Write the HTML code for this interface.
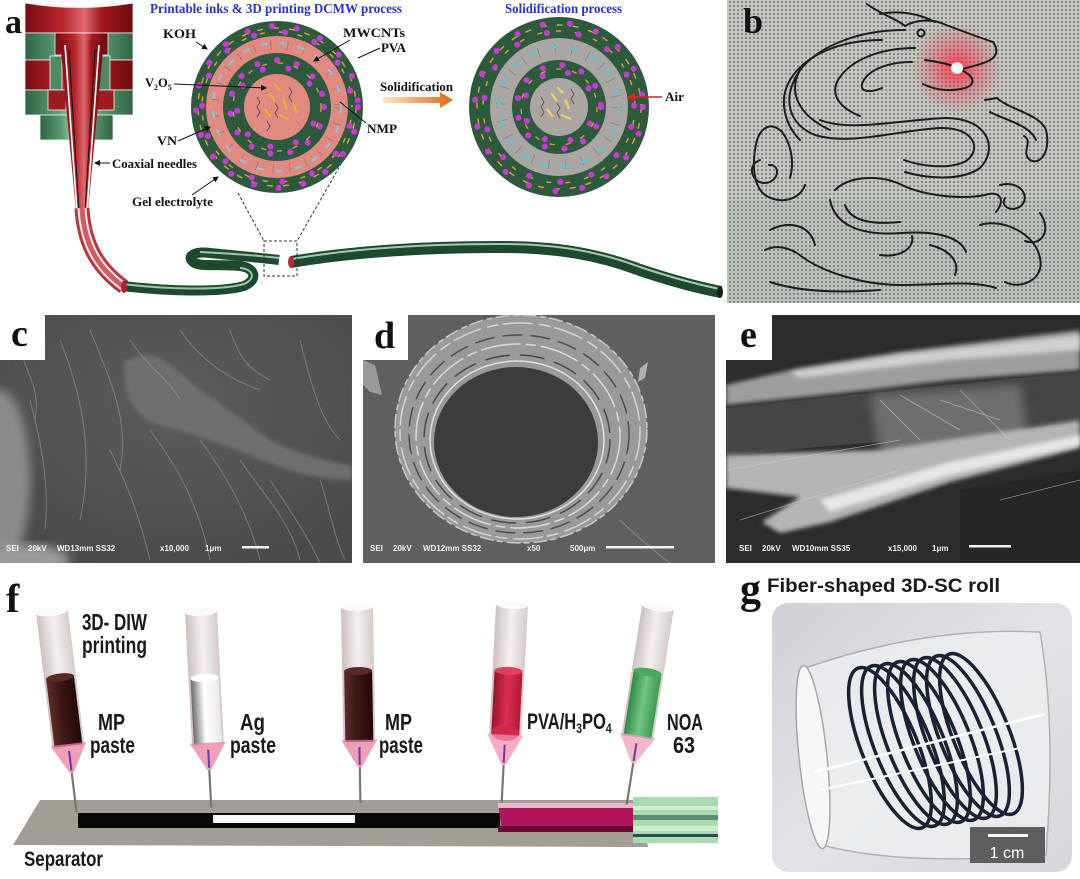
<!DOCTYPE html>
<html><head><meta charset="utf-8">
<style>
html,body{margin:0;padding:0;background:#fff;width:1080px;height:879px;overflow:hidden}
svg{display:block}
.ser{font-family:"Liberation Serif",serif;font-weight:bold;fill:#111}
.sans{font-family:"Liberation Sans",sans-serif;font-weight:bold;fill:#1a1a1a}
.sem{font-family:"Liberation Sans",sans-serif;font-weight:bold;fill:#f2f2f2;font-size:8px}
.ttl{font-family:"Liberation Serif",serif;font-weight:bold;fill:#2733d6;font-size:14px}
</style></head><body>
<svg width="1080" height="879" viewBox="0 0 1080 879" xmlns="http://www.w3.org/2000/svg">
<defs>
<linearGradient id="redH" x1="0" x2="1"><stop offset="0" stop-color="#7a0c12"/><stop offset=".35" stop-color="#b8252d"/><stop offset=".55" stop-color="#e06a70"/><stop offset=".7" stop-color="#a51820"/><stop offset="1" stop-color="#6e0a10"/></linearGradient>
<linearGradient id="grnH" x1="0" x2="1"><stop offset="0" stop-color="#2f6444"/><stop offset=".3" stop-color="#5e9a73"/><stop offset=".5" stop-color="#b6dcc2"/><stop offset=".7" stop-color="#5e9a73"/><stop offset="1" stop-color="#2f6444"/></linearGradient>
<linearGradient id="orng" x1="0" x2="1"><stop offset="0" stop-color="#fce6cc"/><stop offset="1" stop-color="#e06a10"/></linearGradient>
<pattern id="fab" width="4" height="4" patternUnits="userSpaceOnUse"><rect width="4" height="4" fill="#c4c6c1"/><circle cx="2" cy="2" r="1.1" fill="#7e817c"/></pattern>
<radialGradient id="glow"><stop offset="0" stop-color="#ff3040" stop-opacity=".85"/><stop offset=".5" stop-color="#ff2040" stop-opacity=".35"/><stop offset="1" stop-color="#ff2040" stop-opacity="0"/></radialGradient>
<linearGradient id="glass" x1="0" x2="1"><stop offset="0" stop-color="#cdbfc0"/><stop offset=".5" stop-color="#f4f0f0"/><stop offset="1" stop-color="#d6cbcb"/></linearGradient>
<linearGradient id="brown" x1="0" x2="1"><stop offset="0" stop-color="#5c2b2a"/><stop offset=".4" stop-color="#3e1818"/><stop offset="1" stop-color="#220909"/></linearGradient>
<linearGradient id="silver" x1="0" x2="1"><stop offset="0" stop-color="#6a6a6a"/><stop offset=".45" stop-color="#ffffff"/><stop offset="1" stop-color="#e8e8e8"/></linearGradient>
<linearGradient id="redp" x1="0" x2="1"><stop offset="0" stop-color="#9c1030"/><stop offset=".5" stop-color="#d8304e"/><stop offset="1" stop-color="#b01838"/></linearGradient>
<linearGradient id="grnp" x1="0" x2="1"><stop offset="0" stop-color="#2f8a44"/><stop offset=".5" stop-color="#74c486"/><stop offset="1" stop-color="#3c9a52"/></linearGradient>
<linearGradient id="photo" x1="0" y1="0" x2="1" y2="1"><stop offset="0" stop-color="#cfd1d6"/><stop offset=".5" stop-color="#e2e3e7"/><stop offset="1" stop-color="#d6d7db"/></linearGradient>
<radialGradient id="cgrad" cx=".5" cy=".35" r=".7"><stop offset="0" stop-color="#5c5c5c"/><stop offset="1" stop-color="#4a4a4a"/></radialGradient>
<filter id="bl2"><feGaussianBlur stdDeviation="2"/></filter>
<filter id="bl5"><feGaussianBlur stdDeviation="5"/></filter>
<marker id="ah" markerWidth="6" markerHeight="6" refX="5" refY="3" orient="auto"><path d="M0,0 L6,3 L0,6Z" fill="#111"/></marker>
<marker id="ahr" markerWidth="6" markerHeight="6" refX="5" refY="3" orient="auto"><path d="M0,0 L6,3 L0,6Z" fill="#e02020"/></marker>
<clipPath id="cpB"><rect x="727" y="0" width="353" height="303"/></clipPath>
<clipPath id="cpC"><rect x="0" y="315" width="352" height="248"/></clipPath>
<clipPath id="cpD"><rect x="363" y="315" width="352" height="248"/></clipPath>
<clipPath id="cpE"><rect x="726" y="315" width="354" height="248"/></clipPath>
<clipPath id="cpG"><rect x="772" y="603" width="300" height="269" rx="16"/></clipPath>
</defs>

<!-- ============ PANEL A ============ -->
<text class="ser" x="5" y="33" font-size="34">a</text>
<text class="ttl" x="150" y="13" textLength="252" lengthAdjust="spacingAndGlyphs">Printable inks &amp; 3D printing DCMW process</text>
<text class="ttl" x="505" y="13" textLength="117" lengthAdjust="spacingAndGlyphs">Solidification process</text>

<!-- nozzle -->
<g stroke="#eef4ef" stroke-width="0.8">
<path d="M25,3 Q79,12 133,3 L133,33 L25,33Z" fill="url(#redH)"/>
<rect x="25" y="33" width="108" height="27" fill="url(#grnH)"/>
<rect x="55" y="33" width="53" height="22" fill="url(#redH)"/>
<rect x="25" y="60" width="108" height="30" fill="url(#redH)"/>
<rect x="50" y="56" width="12" height="34" fill="#4e8a62"/>
<rect x="98" y="56" width="12" height="34" fill="#4e8a62"/>
<rect x="25" y="90" width="108" height="25" fill="url(#grnH)"/>
<rect x="48" y="90" width="18" height="20" fill="#9b1b22"/>
<rect x="96" y="90" width="18" height="20" fill="#9b1b22"/>
<rect x="40" y="115" width="73" height="25" fill="url(#grnH)"/>
</g>
<polygon points="60,40 104,40 88,212 76,212" fill="url(#redH)"/>
<line x1="65" y1="45" x2="77" y2="212" stroke="#fff" stroke-width="1.6"/>
<line x1="99" y1="45" x2="87" y2="212" stroke="#fff" stroke-width="1.6"/>
<line x1="69" y1="50" x2="79" y2="212" stroke="#111" stroke-width="1"/>
<line x1="95" y1="50" x2="85" y2="212" stroke="#111" stroke-width="1"/>
<path d="M82,208 C84,245 98,268 124,287" fill="none" stroke="#b83840" stroke-width="15"/>
<path d="M82,208 C84,245 98,268 124,287" fill="none" stroke="#f4e8e8" stroke-width="9"/>
<path d="M82,208 C84,245 98,268 124,287" fill="none" stroke="#d25c66" stroke-width="5"/>
<!-- green S tube -->
<path d="M122,286 C165,291 220,293 244,286 C258,280 256,268 240,266 C215,264 200,267 193,262 C186,256 195,251 210,253 C240,256 262,258 279,260" fill="none" stroke="#1d4a2e" stroke-width="10"/>
<path d="M122,284 C165,289 220,291 244,284 C256,279 254,269 240,268" fill="none" stroke="#9cc4a9" stroke-width="2"/>
<path d="M200,252 C240,254 262,256 279,258" fill="none" stroke="#9cc4a9" stroke-width="2"/>
<ellipse cx="124" cy="287" rx="3" ry="6" fill="#b02030"/>
<!-- long tube -->
<path d="M291,262 C350,252 420,247 500,247 C560,247 600,255 640,270 C670,280 700,288 721,292" fill="none" stroke="#1d4a2e" stroke-width="12"/>
<path d="M292,259 C350,249 420,244 500,244 C560,244 600,252 640,267 C670,277 700,285 720,289" fill="none" stroke="#a7c9b2" stroke-width="2"/>
<ellipse cx="291" cy="262" rx="3" ry="6" fill="#c02a35"/>
<ellipse cx="720" cy="292" rx="3" ry="6" fill="#0c2616"/>
<!-- dashed zoom -->
<rect x="264" y="241" width="33" height="35" fill="none" stroke="#333" stroke-width="1" stroke-dasharray="3,2"/>
<line x1="238" y1="193" x2="264" y2="241" stroke="#333" stroke-width="1" stroke-dasharray="3,2"/>
<line x1="349" y1="150" x2="297" y2="241" stroke="#333" stroke-width="1" stroke-dasharray="3,2"/>

<!-- left circle -->
<g transform="translate(277,107)" fill="none">
<circle r="86" fill="#2d5a3c"/>
<circle r="71" fill="#e08a82"/>
<circle r="54" fill="#2d5a3c"/>
<circle r="33" fill="#e08a82"/>
<circle r="79" stroke="#d6a43c" stroke-width="1.4" stroke-dasharray="6 10"/>
<circle r="75" stroke="#d6a43c" stroke-width="1.4" stroke-dasharray="5 14" stroke-dashoffset="6"/>
<circle r="81" stroke="#c83ad6" stroke-width="6" stroke-linecap="round" stroke-dasharray="0.1 25"/>
<circle r="75" stroke="#c83ad6" stroke-width="6" stroke-linecap="round" stroke-dasharray="0.1 31" stroke-dashoffset="12"/>
<circle r="62" stroke="#555" stroke-width="9" stroke-dasharray="0.8 16" opacity=".45"/>
<circle r="64" stroke="#8ec3d6" stroke-width="2.4" stroke-dasharray="7 12"/>
<circle r="47" stroke="#c83ad6" stroke-width="6" stroke-linecap="round" stroke-dasharray="0.1 20"/>
<circle r="40" stroke="#c83ad6" stroke-width="6" stroke-linecap="round" stroke-dasharray="0.1 26" stroke-dashoffset="9"/>
<circle r="44" stroke="#d6a43c" stroke-width="1.3" stroke-dasharray="5 11"/>
<g stroke="#f0b030" stroke-width="2.2">
<line x1="-8" y1="-14" x2="-2" y2="-6"/><line x1="6" y1="-8" x2="10" y2="2"/><line x1="-12" y1="2" x2="-6" y2="10"/><line x1="2" y1="8" x2="12" y2="12"/><line x1="-2" y1="-22" x2="4" y2="-16"/><line x1="16" y1="-4" x2="20" y2="6"/>
</g>
<g stroke="#555" stroke-width="0.9">
<polyline points="-20,-10 -17,-5 -20,0 -17,5 -20,10"/><polyline points="-2,-4 1,1 -2,6 1,11"/><polyline points="12,-20 15,-15 12,-10 15,-5"/><polyline points="-10,14 -7,19 -10,24"/>
</g>
</g>

<!-- right circle -->
<g transform="translate(559,107)" fill="none">
<circle r="90" fill="#2d5a3c"/>
<circle r="69" fill="#a9a6a3"/>
<circle r="47" fill="#2d5a3c"/>
<circle r="29" fill="#a9a6a3"/>
<circle r="82" stroke="#d6a43c" stroke-width="1.4" stroke-dasharray="6 10"/>
<circle r="76" stroke="#d6a43c" stroke-width="1.4" stroke-dasharray="5 14" stroke-dashoffset="6"/>
<circle r="84" stroke="#c83ad6" stroke-width="6" stroke-linecap="round" stroke-dasharray="0.1 27"/>
<circle r="75" stroke="#c83ad6" stroke-width="6" stroke-linecap="round" stroke-dasharray="0.1 32" stroke-dashoffset="12"/>
<circle r="58" stroke="#555" stroke-width="10" stroke-dasharray="0.8 16" opacity=".45"/>
<circle r="60" stroke="#5cc6d6" stroke-width="2.4" stroke-dasharray="8 13"/>
<circle r="42" stroke="#c83ad6" stroke-width="6" stroke-linecap="round" stroke-dasharray="0.1 20"/>
<circle r="35" stroke="#c83ad6" stroke-width="6" stroke-linecap="round" stroke-dasharray="0.1 26" stroke-dashoffset="9"/>
<circle r="38" stroke="#d6a43c" stroke-width="1.3" stroke-dasharray="5 11"/>
<g stroke="#f0d060" stroke-width="2.2">
<line x1="-8" y1="-14" x2="-2" y2="-6"/><line x1="6" y1="-8" x2="10" y2="2"/><line x1="-12" y1="2" x2="-6" y2="10"/><line x1="2" y1="8" x2="12" y2="12"/><line x1="-2" y1="-20" x2="4" y2="-14"/>
</g>
<g stroke="#555" stroke-width="0.9">
<polyline points="-18,-10 -15,-5 -18,0 -15,5 -18,10"/><polyline points="-2,-4 1,1 -2,6 1,11"/><polyline points="12,-18 15,-13 12,-8 15,-3"/>
</g>
</g>

<!-- panel a labels -->
<g class="ser" font-size="12.5">
<text x="163" y="38" textLength="33" lengthAdjust="spacingAndGlyphs">KOH</text>
<text x="343" y="37" textLength="62" lengthAdjust="spacingAndGlyphs">MWCNTs</text>
<text x="381" y="52" textLength="25" lengthAdjust="spacingAndGlyphs">PVA</text>
<text x="145" y="87">V<tspan font-size="8" dy="3">2</tspan><tspan dy="-3">O</tspan><tspan font-size="8" dy="3">5</tspan></text>
<text x="367" y="133" textLength="30" lengthAdjust="spacingAndGlyphs">NMP</text>
<text x="157" y="145" textLength="20" lengthAdjust="spacingAndGlyphs">VN</text>
<text x="112" y="168" textLength="85" lengthAdjust="spacingAndGlyphs">Coaxial needles</text>
<text x="132" y="206" textLength="81" lengthAdjust="spacingAndGlyphs">Gel electrolyte</text>
<text x="380" y="91" textLength="73" lengthAdjust="spacingAndGlyphs">Solidification</text>
<text x="665" y="101" textLength="19" lengthAdjust="spacingAndGlyphs">Air</text>
</g>
<g stroke="#111" stroke-width="1" fill="none">
<line x1="196" y1="42" x2="207" y2="49" marker-end="url(#ah)"/>
<line x1="350" y1="40" x2="314" y2="61" marker-end="url(#ah)"/>
<line x1="380" y1="48" x2="358" y2="58"/>
<line x1="174" y1="84" x2="266" y2="88" marker-end="url(#ah)"/>
<line x1="366" y1="123" x2="340" y2="102"/>
<line x1="178" y1="141" x2="210" y2="127" marker-end="url(#ah)"/>
<line x1="110" y1="163" x2="95" y2="163" marker-end="url(#ah)"/>
<line x1="192" y1="195" x2="218" y2="177" marker-end="url(#ah)"/>
</g>
<line x1="662" y1="97" x2="628" y2="97" stroke="#e02020" stroke-width="1.5" marker-end="url(#ahr)"/>
<polygon points="383,97 440,97 440,92 453,100 440,108 440,103 383,103" fill="url(#orng)"/>

<!-- ============ PANEL B ============ -->
<g clip-path="url(#cpB)">
<rect x="727" y="0" width="353" height="303" fill="url(#fab)"/>
<rect x="727" y="200" width="353" height="103" fill="#6a9a80" opacity=".08"/>
<circle cx="957" cy="68" r="45" fill="url(#glow)"/>
<g fill="none" stroke="#1e1e1e" stroke-width="2" stroke-linecap="round">
<path d="M867,4 C880,14 895,18 905,26 C915,20 932,18 946,25 C962,31 978,37 993,42 C999,50 997,58 986,62 C976,66 966,68 958,70"/>
<path d="M880,14 C900,10 920,14 935,22"/>
<circle cx="921" cy="33" r="3.5"/>
<path d="M925,60 C940,62 955,65 965,72 C975,78 975,85 965,88 C950,92 935,90 923,84"/>
<path d="M905,30 C860,30 820,45 800,70 C788,92 798,115 830,130"/>
<path d="M915,48 C880,48 850,60 838,80 C830,95 840,108 860,116"/>
<path d="M912,62 C884,62 866,72 862,84 C860,92 870,93 882,88"/>
<path d="M882,40 C840,40 805,55 790,80 C778,100 785,125 800,140"/>
<path d="M800,70 C780,100 790,125 815,135 C850,146 900,130 940,128 C975,127 982,150 966,161 C950,170 920,166 904,160"/>
<path d="M820,120 C850,132 900,120 945,118 C990,118 998,150 980,168 C960,182 925,178 905,172"/>
<path d="M985,100 L997,98 C1010,110 1040,114 1046,130 C1051,150 1041,166 1030,160 C1020,152 1034,142 1024,136"/>
<path d="M990,112 C1005,120 1030,125 1036,140"/>
<path d="M757,140 C762,126 772,122 782,132 C790,142 795,160 790,178"/>
<path d="M760,160 C744,166 754,188 770,182 C781,176 778,164 769,165"/>
<path d="M757,140 C752,160 752,185 765,195 C780,205 800,200 805,185"/>
<path d="M835,190 C850,175 882,175 902,185 C922,195 960,200 985,195 C1000,190 1006,200 996,212"/>
<path d="M830,200 C835,226 862,236 902,233 C942,230 962,240 966,252"/>
<path d="M845,205 C850,220 870,225 900,222"/>
<path d="M765,250 C776,244 791,248 801,256 C821,271 861,285 901,285 C941,285 971,280 996,288"/>
<path d="M770,282 C800,292 840,293 880,290"/>
<path d="M770,230 C790,220 810,225 815,245"/>
<path d="M1000,185 C1020,180 1031,196 1021,206 C1011,213 1000,206 1005,198"/>
<path d="M1040,213 C1052,230 1042,247 1025,241"/>
<path d="M980,225 C1000,218 1035,232 1040,258 C1045,280 1020,290 1005,282"/>
<path d="M930,245 C950,250 960,262 955,275"/>
<path d="M880,255 C900,258 915,248 912,236"/>
</g>
<circle cx="957" cy="68" r="6" fill="#fff6f0"/>
</g>
<text class="ser" x="743" y="33" font-size="36">b</text>

<!-- ============ PANEL C ============ -->
<g clip-path="url(#cpC)">
<rect x="0" y="315" width="352" height="248" fill="url(#cgrad)"/>
<ellipse cx="0" cy="480" rx="30" ry="90" fill="#8c8c8c" filter="url(#bl5)"/>
<ellipse cx="25" cy="560" rx="45" ry="16" fill="#9a9a9a" filter="url(#bl5)"/>
<path d="M125,362 C140,350 160,355 172,366 C192,386 230,410 270,440 C300,455 330,462 352,465 L352,480 C320,480 290,473 250,455 C210,440 180,430 160,425 C140,420 120,400 125,362Z" fill="#6e6e6e" filter="url(#bl2)"/>
<g stroke="#a8a8a8" stroke-width="1" fill="none" opacity=".5">
<path d="M90,330 C110,380 130,420 120,470"/><path d="M60,340 C80,390 95,450 80,520"/>
<path d="M150,430 C180,470 200,510 210,560"/><path d="M200,440 C230,480 250,520 260,560"/>
<path d="M240,460 C260,490 290,520 300,560"/><path d="M180,330 C200,360 230,380 260,390"/>
<path d="M30,400 C40,440 50,480 45,530"/><path d="M300,340 C310,380 320,420 340,440"/>
<path d="M110,450 C130,490 140,520 150,560"/><path d="M270,480 C290,510 310,540 320,563"/>
<path d="M20,350 C30,380 40,390 35,420"/><path d="M320,480 C330,510 335,540 345,560"/>
<path d="M130,340 C150,370 170,380 180,400"/><path d="M230,330 C240,360 250,370 270,380"/>
</g>
</g>
<rect x="0" y="315" width="45" height="45" fill="#fff"/>
<text class="ser" x="11" y="346" font-size="38">c</text>
<text class="sem" x="6" y="551">SEI</text><text class="sem" x="28" y="551">20kV</text><text class="sem" x="57" y="551">WD13mm SS32</text>
<text class="sem" x="160" y="551">x10,000</text><text class="sem" x="205" y="551">1μm</text>
<rect x="242" y="546" width="27" height="2.5" fill="#f2f2f2"/>

<!-- ============ PANEL D ============ -->
<g clip-path="url(#cpD)">
<rect x="363" y="315" width="352" height="248" fill="#5f5f5f"/>
<path d="M395,429 a126,114 0 1,0 252,0 a126,114 0 1,0 -252,0Z M434,442 a82,75 0 1,1 164,0 a82,75 0 1,1 -164,0Z" fill="#9a9a9a" fill-rule="evenodd"/>
<ellipse cx="516" cy="442" rx="82" ry="75" fill="#3c3c3c"/>
<g fill="none" stroke-width="1.5">
<ellipse cx="520" cy="431" rx="120" ry="108" stroke="#d4d4d4" stroke-dasharray="30 6 12 4"/>
<ellipse cx="519" cy="434" rx="110" ry="99" stroke="#4e4e4e" stroke-dasharray="20 8"/>
<ellipse cx="518" cy="436" rx="102" ry="92" stroke="#dadada" stroke-dasharray="40 5 10 5"/>
<ellipse cx="517" cy="439" rx="93" ry="84" stroke="#4a4a4a" stroke-dasharray="25 10"/>
<ellipse cx="517" cy="440" rx="87" ry="79" stroke="#e0e0e0"/>
<ellipse cx="521" cy="429" rx="126" ry="114" stroke="#c8c8c8" stroke-dasharray="14 4 6 3"/>
</g>
<path d="M363,360 L375,365 L382,395 L370,392 L363,385Z" fill="#9a9a9a"/>
<path d="M640,368 L648,362 L645,378 L638,382Z" fill="#b0b0b0"/>
<path d="M620,520 C640,540 660,555 670,563" stroke="#888" fill="none"/>
</g>
<rect x="363" y="315" width="45" height="45" fill="#fff"/>
<text class="ser" x="374" y="348" font-size="38">d</text>
<text class="sem" x="370" y="551">SEI</text><text class="sem" x="393" y="551">20kV</text><text class="sem" x="423" y="551">WD12mm SS32</text>
<text class="sem" x="527" y="551">x50</text><text class="sem" x="570" y="551">500μm</text>
<rect x="606" y="546" width="68" height="2.5" fill="#f2f2f2"/>

<!-- ============ PANEL E ============ -->
<g clip-path="url(#cpE)">
<rect x="726" y="315" width="354" height="248" fill="#2c2c2c"/>
<polygon points="726,385 800,368 900,352 1080,330 1080,370 950,380 850,392 726,405" fill="#9e9e9e" filter="url(#bl2)"/>
<polygon points="790,372 900,355 1080,335 1080,350 950,360 800,378" fill="#d0d0d0" filter="url(#bl2)"/>
<polygon points="726,408 850,395 1080,372 1080,420 900,440 726,455" fill="#454545"/>
<polygon points="870,395 1020,385 1030,450 880,455" fill="#6e6e6e" filter="url(#bl5)"/>
<polygon points="726,455 880,450 1080,420 1080,448 950,482 830,522 780,533 762,522 800,497 726,488" fill="#b4b4b4" filter="url(#bl2)"/>
<polygon points="820,500 950,462 1080,435 1080,445 950,475 830,512" fill="#e6e6e6" filter="url(#bl2)"/>
<polygon points="960,490 1080,470 1080,563 960,563" fill="#262626"/>
<g stroke="#cfcfcf" stroke-width="0.8" fill="none" opacity=".6">
<path d="M880,400 L920,440"/><path d="M900,395 L960,430"/><path d="M940,400 L1000,420"/><path d="M960,390 L1010,440"/>
<path d="M726,470 L900,440"/><path d="M740,520 L900,470"/><path d="M1000,500 L1080,480"/>
</g>
</g>
<rect x="726" y="315" width="46" height="45" fill="#fff"/>
<text class="ser" x="740" y="347" font-size="38">e</text>
<text class="sem" x="739" y="551">SEI</text><text class="sem" x="762" y="551">20kV</text><text class="sem" x="792" y="551">WD10mm SS35</text>
<text class="sem" x="888" y="551">x15,000</text><text class="sem" x="932" y="551">1μm</text>
<rect x="969" y="545" width="42" height="2.5" fill="#f2f2f2"/>

<!-- ============ PANEL F ============ -->
<text class="ser" x="6" y="612" font-size="40">f</text>
<polygon points="40,800 640,800 648,847 13,845" fill="#a39d98"/>
<rect x="78" y="813" width="422" height="15" fill="#080808"/>
<rect x="213" y="815" width="142" height="8" fill="#fafafa"/>
<polygon points="498,803 633,803 636,832 502,832" fill="#b0145a"/>
<rect x="498" y="803" width="135" height="5" fill="#f2b6cc"/>
<rect x="498" y="826" width="136" height="6" fill="#6a0a30"/>
<rect x="633" y="797" width="85" height="46" fill="#a8dcae"/>
<rect x="633" y="806" width="85" height="4" fill="#d0f0d0"/>
<rect x="633" y="815" width="85" height="5" fill="#5e8a7a"/>
<rect x="633" y="826" width="85" height="5" fill="#cfeccf"/>
<rect x="633" y="834" width="85" height="3" fill="#2e4a5a"/>
<g transform="translate(52,612) rotate(-7)">
<rect x="-16" y="0" width="32" height="135" fill="url(#glass)"/><rect x="-14" y="66" width="28" height="69" fill="url(#brown)"/>
<ellipse cx="0" cy="66" rx="14" ry="4" fill="#5a2a2a"/><ellipse cx="0" cy="0" rx="16" ry="4" fill="#fafafa"/>
<polygon points="-18,133 18,133 2,162 -2,162" fill="#e880a0" opacity=".75"/><line x1="0" y1="140" x2="0" y2="160" stroke="#6a3aa0" stroke-width="2"/>
<line x1="0" y1="162" x2="0" y2="202" stroke="#777" stroke-width="2.2"/></g>
<g transform="translate(201,612) rotate(-3)">
<rect x="-16" y="0" width="32" height="133" fill="url(#glass)"/><rect x="-14" y="66" width="28" height="67" fill="url(#silver)"/>
<ellipse cx="0" cy="66" rx="14" ry="4" fill="#fff"/><ellipse cx="0" cy="0" rx="16" ry="4" fill="#fafafa"/>
<polygon points="-18,131 18,131 2,158 -2,158" fill="#e880a0" opacity=".75"/><line x1="0" y1="138" x2="0" y2="156" stroke="#6a3aa0" stroke-width="2"/>
<line x1="0" y1="158" x2="0" y2="196" stroke="#777" stroke-width="2.2"/></g>
<g transform="translate(357,607) rotate(-1)">
<rect x="-16" y="0" width="32" height="135" fill="url(#glass)"/><rect x="-14" y="64" width="28" height="71" fill="url(#brown)"/>
<ellipse cx="0" cy="64" rx="14" ry="4" fill="#5a2a2a"/><ellipse cx="0" cy="0" rx="16" ry="4" fill="#fafafa"/>
<polygon points="-18,133 18,133 2,160 -2,160" fill="#e880a0" opacity=".75"/><line x1="0" y1="140" x2="0" y2="158" stroke="#6a3aa0" stroke-width="2"/>
<line x1="0" y1="160" x2="0" y2="196" stroke="#777" stroke-width="2.2"/></g>
<g transform="translate(512,605) rotate(3)">
<rect x="-16" y="0" width="32" height="130" fill="url(#glass)"/><rect x="-14" y="66" width="28" height="64" fill="url(#redp)"/>
<ellipse cx="0" cy="66" rx="14" ry="4" fill="#e04060"/><ellipse cx="0" cy="128" rx="14" ry="8" fill="#d02848"/><ellipse cx="0" cy="0" rx="16" ry="4" fill="#fafafa"/>
<polygon points="-18,130 18,130 2,160 -2,160" fill="#f090b0" opacity=".75"/><line x1="0" y1="140" x2="0" y2="158" stroke="#6a3aa0" stroke-width="2"/>
<line x1="0" y1="160" x2="0" y2="198" stroke="#777" stroke-width="2.2"/></g>
<g transform="translate(658,607) rotate(9)">
<rect x="-16" y="0" width="32" height="132" fill="url(#glass)"/><rect x="-14" y="66" width="28" height="66" fill="url(#grnp)"/>
<ellipse cx="0" cy="66" rx="14" ry="4" fill="#4aaa5c"/><ellipse cx="0" cy="0" rx="16" ry="4" fill="#fafafa"/>
<polygon points="-18,130 18,130 2,158 -2,158" fill="#f0a0b8" opacity=".75"/><line x1="0" y1="138" x2="0" y2="156" stroke="#6a3aa0" stroke-width="2"/>
<line x1="0" y1="158" x2="0" y2="200" stroke="#777" stroke-width="2.2"/></g>
<g class="sans" font-size="23">
<text x="82" y="630" textLength="65" lengthAdjust="spacingAndGlyphs">3D- DIW</text>
<text x="82" y="653" textLength="65" lengthAdjust="spacingAndGlyphs">printing</text>
<text x="98" y="730" textLength="27" lengthAdjust="spacingAndGlyphs">MP</text>
<text x="90" y="753" textLength="45" lengthAdjust="spacingAndGlyphs">paste</text>
<text x="240" y="730" textLength="25" lengthAdjust="spacingAndGlyphs">Ag</text>
<text x="230" y="753" textLength="46" lengthAdjust="spacingAndGlyphs">paste</text>
<text x="385" y="730" textLength="27" lengthAdjust="spacingAndGlyphs">MP</text>
<text x="379" y="753" textLength="44" lengthAdjust="spacingAndGlyphs">paste</text>
<text x="667" y="730" textLength="36" lengthAdjust="spacingAndGlyphs">NOA</text>
<text x="673" y="753" textLength="22" lengthAdjust="spacingAndGlyphs">63</text>
<text x="24" y="866" font-size="21" textLength="79" lengthAdjust="spacingAndGlyphs">Separator</text>
</g>
<text class="sans" font-size="22" transform="translate(527,729) scale(0.75,1)">PVA/H<tspan font-size="14" dy="4">3</tspan><tspan dy="-4">PO</tspan><tspan font-size="14" dy="4">4</tspan></text>

<!-- ============ PANEL G ============ -->
<text class="ser" x="740" y="603" font-size="42">g</text>
<text class="sans" x="767" y="592" font-size="19" textLength="233" lengthAdjust="spacingAndGlyphs">Fiber-shaped 3D-SC roll</text>
<g clip-path="url(#cpG)">
<rect x="772" y="603" width="300" height="269" fill="url(#photo)"/>
<path d="M805,668 C880,642 960,628 1040,632 C1052,700 1052,780 1046,855 C960,862 880,860 826,846 C800,800 795,720 805,668Z" fill="#eef0f2" opacity=".75" stroke="#9ea2a8" stroke-width="1.5"/>
<ellipse cx="813" cy="757" rx="14" ry="92" transform="rotate(-6 813 757)" fill="#f6f7f8" stroke="#a4a8ac" stroke-width="1.5"/>
<g fill="none" stroke="#1a2132" stroke-width="3.5">
<ellipse cx="890" cy="748" rx="28" ry="86" transform="rotate(-22 890 748)"/>
<ellipse cx="903" cy="746" rx="28" ry="86" transform="rotate(-22 903 746)"/>
<ellipse cx="916" cy="744" rx="28" ry="86" transform="rotate(-22 916 744)"/>
<ellipse cx="929" cy="742" rx="28" ry="86" transform="rotate(-22 929 742)"/>
<ellipse cx="942" cy="740" rx="28" ry="86" transform="rotate(-22 942 740)"/>
<ellipse cx="955" cy="738" rx="28" ry="86" transform="rotate(-22 955 738)"/>
<ellipse cx="968" cy="736" rx="28" ry="86" transform="rotate(-22 968 736)"/>
<ellipse cx="981" cy="734" rx="28" ry="86" transform="rotate(-22 981 734)"/>
</g>
<line x1="815" y1="772" x2="1045" y2="714" stroke="#fff" stroke-width="2.5"/>
<line x1="820" y1="790" x2="1020" y2="748" stroke="#fff" stroke-width="2"/>
<rect x="970" y="827" width="75" height="36" fill="#5e5e5e"/>
<rect x="988" y="834" width="40" height="3" fill="#fff"/>
<text x="1007" y="858" font-family="Liberation Sans, sans-serif" font-size="16" fill="#fff" text-anchor="middle">1 cm</text>
</g>
</svg>
</body></html>
